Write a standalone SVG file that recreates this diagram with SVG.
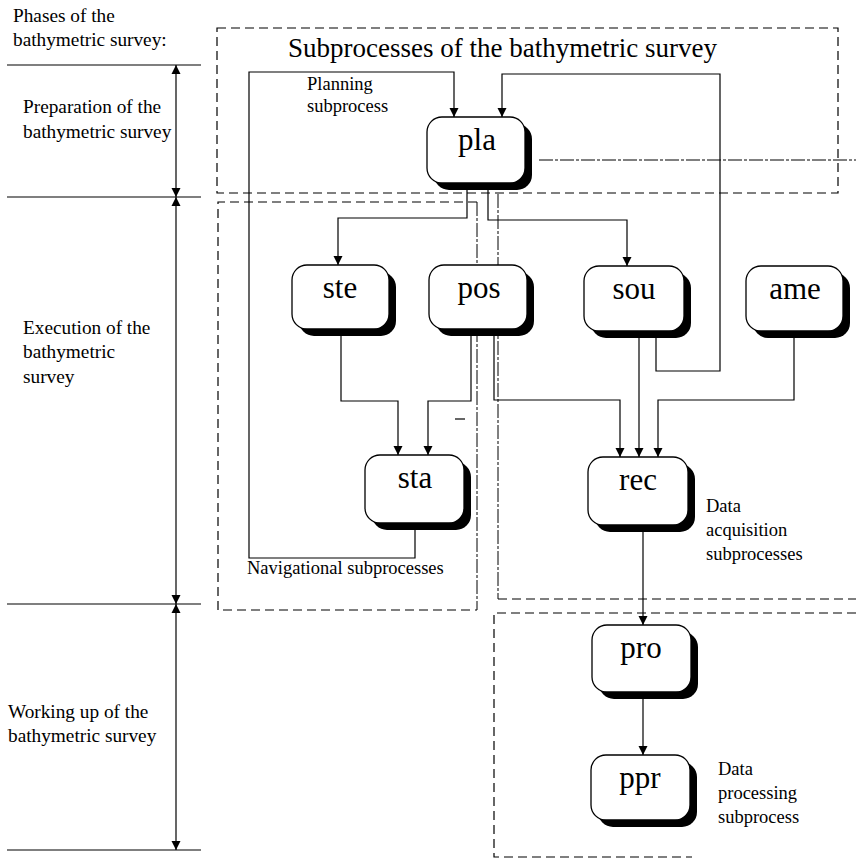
<svg xmlns="http://www.w3.org/2000/svg" width="856" height="861" viewBox="0 0 856 861">
  <defs>
    <marker id="arrow" viewBox="0 0 10 10" refX="10" refY="5" markerWidth="9" markerHeight="10" markerUnits="userSpaceOnUse" orient="auto-start-reverse">
      <path d="M0,0 L10,5 L0,10 z" fill="#000"/>
    </marker>
    <style>
      .label { font-family: "Liberation Serif", "Times New Roman", serif; font-size: 18.5px; fill: #000; }
      .phase { font-family: "Liberation Serif", "Times New Roman", serif; font-size: 19.3px; fill: #000; }
      .title { font-family: "Liberation Serif", "Times New Roman", serif; font-size: 27px; fill: #000; }
      .nodetext { font-family: "Liberation Serif", "Times New Roman", serif; font-size: 31px; fill: #000; text-anchor: middle; }
      .box { fill: #fff; stroke: #000; stroke-width: 1.3; }
      .shadow { fill: #000; }
      .conn { fill: none; stroke: #000; stroke-width: 1.2; }
      .arr { marker-end: url(#arrow); }
      .dash { fill: none; stroke: #000; stroke-width: 1.2; stroke-dasharray: 9 5; }
      .fine { fill: none; stroke: #000; stroke-width: 1; stroke-dasharray: 14 2 3 2; }
      .rule { stroke: #000; stroke-width: 1.2; }
    </style>
  </defs>

  <rect width="856" height="861" fill="#fff"/>

  <!-- phase column -->
  <g id="phases">
    <text class="phase" x="13" y="22">Phases of the</text>
    <text class="phase" x="13" y="46">bathymetric survey:</text>
    <line class="rule" x1="7" y1="65" x2="201" y2="65"/>
    <line class="rule" x1="7" y1="197" x2="201" y2="197"/>
    <line class="rule" x1="7" y1="604" x2="201" y2="604"/>
    <line class="rule" x1="7" y1="850" x2="201" y2="850"/>
    <line class="rule" x1="176" y1="65" x2="176" y2="197" marker-start="url(#arrow)" marker-end="url(#arrow)"/>
    <line class="rule" x1="176" y1="197" x2="176" y2="604" marker-start="url(#arrow)" marker-end="url(#arrow)"/>
    <line class="rule" x1="176" y1="604" x2="176" y2="850" marker-start="url(#arrow)" marker-end="url(#arrow)"/>
    <text class="phase" x="23" y="113">Preparation of the</text>
    <text class="phase" x="23" y="138">bathymetric survey</text>
    <text class="phase" x="23" y="334">Execution of  the</text>
    <text class="phase" x="23" y="358">bathymetric</text>
    <text class="phase" x="23" y="383">survey</text>
    <text class="phase" x="8" y="718">Working up of the</text>
    <text class="phase" x="8" y="742">bathymetric survey</text>
  </g>

  <!-- subprocess regions -->
  <g id="regions">
    <rect class="dash" x="217" y="28" width="621" height="165"/>
    <text class="title" x="288" y="57">Subprocesses of the bathymetric survey</text>
    <text class="label" x="307" y="90">Planning</text>
    <text class="label" x="307" y="112">subprocess</text>
    <path class="fine" d="M539,160 H856"/>

    <path class="dash" d="M477,202 H218 V610 H477"/>
    <path class="fine" d="M477,202 V610"/>
    <text class="label" x="247" y="574">Navigational subprocesses</text>

    <path class="fine" d="M498,194 V599"/>
    <path class="dash" d="M498,599 H856"/>
    <text class="label" x="706" y="512">Data</text>
    <text class="label" x="706" y="536">acquisition</text>
    <text class="label" x="706" y="560">subprocesses</text>

    <path class="dash" d="M856,613 H494 V857 H692"/>
    <text class="label" x="718" y="775">Data</text>
    <text class="label" x="718" y="799">processing</text>
    <text class="label" x="718" y="823">subprocess</text>
  </g>

  <!-- connectors -->
  <g id="connectors">
    <path class="conn arr" d="M415,523 V558 H249 V72 H454 V117"/>
    <path class="conn arr" d="M656,331 V371 H720 V74 H502 V117"/>
    <path class="conn arr" d="M467,183 V218 H338 V265"/>
    <path class="conn arr" d="M488,183 V220 H627 V266"/>
    <path class="conn arr" d="M341,329 V401 H398 V455"/>
    <path class="conn arr" d="M471,329 V401 H428 V455"/>
    <path class="conn arr" d="M494,329 V400 H620 V457"/>
    <path class="conn arr" d="M639,331 V457"/>
    <path class="conn arr" d="M794,331 V400 H658 V457"/>
    <path class="conn arr" d="M643,525 V625"/>
    <path class="conn arr" d="M643,692 V755"/>
    <line class="conn" x1="455" y1="419" x2="465" y2="419"/>
  </g>

  <!-- nodes -->
  <g id="pla">
    <rect class="shadow" x="434" y="124" width="98" height="66" rx="15"/>
    <rect class="box" x="427" y="117" width="98" height="66" rx="15"/>
    <text class="nodetext" x="477" y="150">pla</text>
  </g>
  <g id="ste">
    <rect class="shadow" x="299" y="272" width="97" height="64" rx="15"/>
    <rect class="box" x="292" y="265" width="97" height="64" rx="15"/>
    <text class="nodetext" x="340" y="298">ste</text>
  </g>
  <g id="pos">
    <rect class="shadow" x="436" y="272" width="98" height="64" rx="15"/>
    <rect class="box" x="429" y="265" width="98" height="64" rx="15"/>
    <text class="nodetext" x="479" y="298">pos</text>
  </g>
  <g id="sou">
    <rect class="shadow" x="591" y="273" width="100" height="65" rx="15"/>
    <rect class="box" x="584" y="266" width="100" height="65" rx="15"/>
    <text class="nodetext" x="634" y="299">sou</text>
  </g>
  <g id="ame">
    <rect class="shadow" x="753" y="273" width="97" height="65" rx="15"/>
    <rect class="box" x="746" y="266" width="97" height="65" rx="15"/>
    <text class="nodetext" x="795" y="299">ame</text>
  </g>
  <g id="sta">
    <rect class="shadow" x="372" y="462" width="99" height="68" rx="15"/>
    <rect class="box" x="365" y="455" width="99" height="68" rx="15"/>
    <text class="nodetext" x="415" y="488">sta</text>
  </g>
  <g id="rec">
    <rect class="shadow" x="595" y="464" width="100" height="68" rx="15"/>
    <rect class="box" x="588" y="457" width="100" height="68" rx="15"/>
    <text class="nodetext" x="638" y="490">rec</text>
  </g>
  <g id="pro">
    <rect class="shadow" x="599" y="632" width="99" height="67" rx="15"/>
    <rect class="box" x="592" y="625" width="99" height="67" rx="15"/>
    <text class="nodetext" x="641" y="658">pro</text>
  </g>
  <g id="ppr">
    <rect class="shadow" x="598" y="762" width="99" height="65" rx="15"/>
    <rect class="box" x="591" y="755" width="99" height="65" rx="15"/>
    <text class="nodetext" x="640" y="788">ppr</text>
  </g>
</svg>
